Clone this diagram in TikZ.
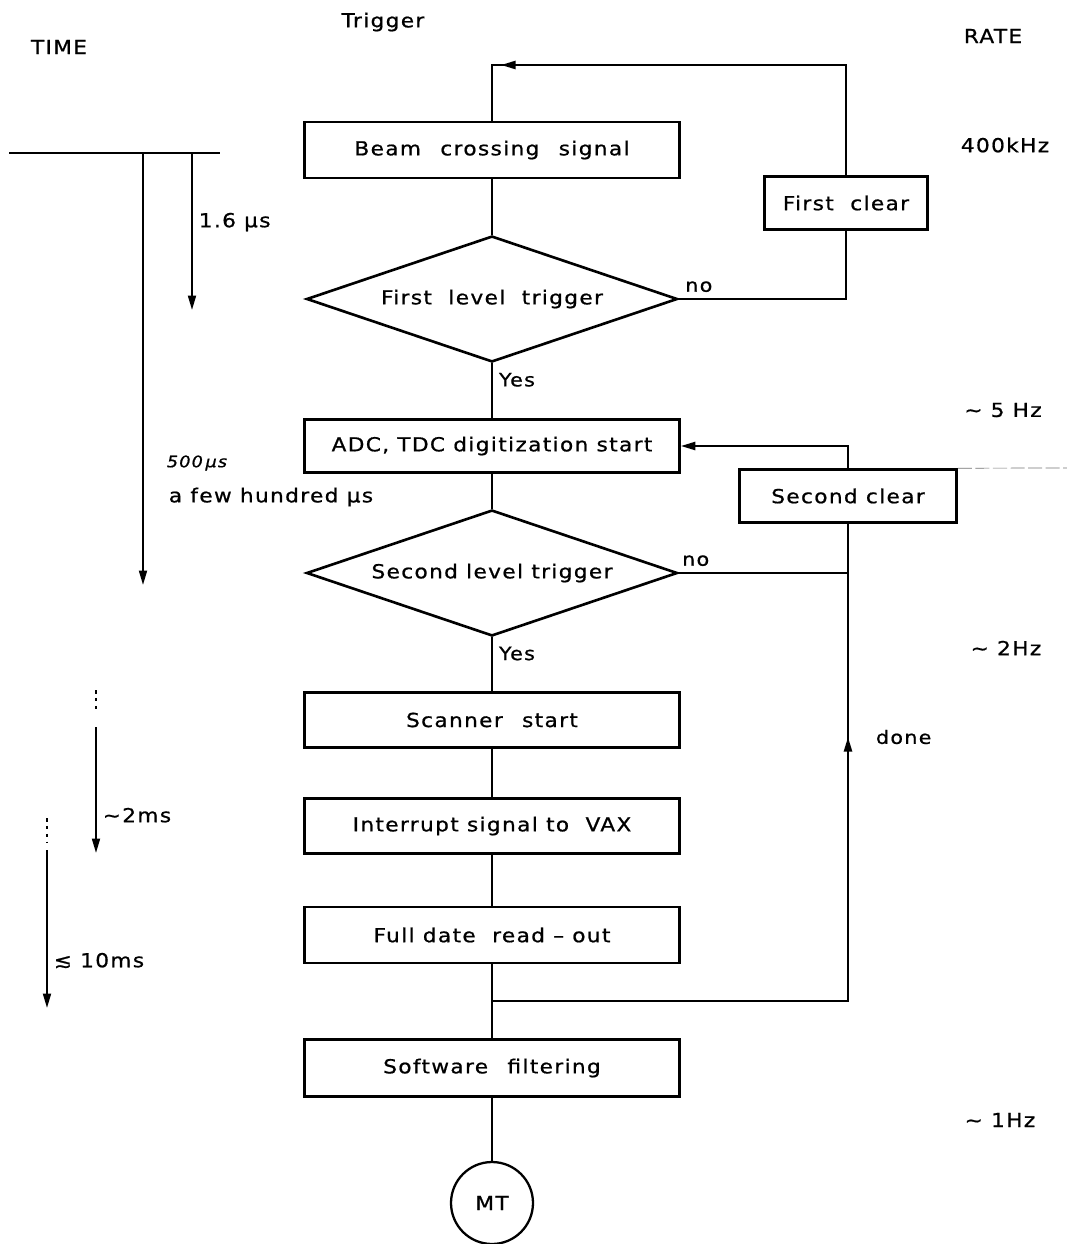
\documentclass[tikz,border=0pt]{standalone}
\usepackage{fontspec}
\setmainfont{DejaVu Sans}[FakeStretch=1.12, LetterSpace=7, FakeBold=0.8]
\usetikzlibrary{positioning,arrows.meta,shapes.geometric,calc}

\begin{document}
\begin{tikzpicture}[
  x=0.02cm, y=-0.02cm,
  font=\fontsize{11}{13}\selectfont,
  >={Triangle[length=2.9mm, width=1.6mm]},
  box/.style={draw, line width=1.5pt, minimum width=7.5cm, minimum height=1.1cm, inner sep=2pt},
  clearbox/.style={box, minimum width=3.26cm, minimum height=1.06cm},
  decide/.style={draw, diamond, aspect=3, line width=1.5pt, minimum width=7.42cm, minimum height=2.52cm, inner sep=0pt},
  tape/.style={draw, circle, line width=1.3pt, minimum size=1.64cm, inner sep=0pt},
  flow/.style={line width=1.3pt},
  tick/.style={->, line width=1.1pt},
  lbl/.style={font=\fontsize{10.5}{12}\selectfont},
]
\useasboundingbox (0,0) rectangle (1067,1244);

% ---- headings ----
\node (time) at (59,47) {TIME};
\node (trig) at (383,22) {Trigger};
\node (rate) at (993,36) {RATE};

% ---- trigger chain ----
\node[box, minimum height=1.12cm] (beam) at (492,150) {Beam\quad crossing\quad signal};
\node[decide] (lvl1) at (492,299) {First\ \ level\ \ trigger};
\node[clearbox] (fc) at (846,203) {First\ \ clear};
\node[box, minimum height=1.06cm] (adc) at (492,446) {ADC, TDC digitization start};
\node[decide] (lvl2) at (492,573) {Second level trigger};
\node[clearbox, minimum width=4.34cm] (sc) at (848,496) {Second clear};
\node[box] (scan) at (492,720) {Scanner\quad start};
\node[box] (vax) at (492,826) {Interrupt signal to\ \ VAX};
\node[box, minimum height=1.12cm] (read) at (492,935) {Full date\ \ read -- out};
\node[box, minimum height=1.14cm] (soft) at (492,1068) {Software\quad filtering};
\node[tape] (mt) at (492,1203) {MT};

% ---- rates ----
\node (r1) at (1005,145) {400kHz};
\node (r2) at (1003,410) {∼ 5 Hz};
\node (r3) at (1006,648) {∼ 2Hz};
\node (r4) at (1000,1120) {∼ 1Hz};
\draw[thin, black!55, dash pattern=on 8pt off 2pt] (sc.north east) -- (1067,468);

% ---- flows ----
\coordinate (top) at (beam.north |- 0,65);
\draw[flow] (fc.north) |- (top) -- (beam.north);
\draw[flow, ->] (fc.north |- top) -- ($(top)+(9,0)$);
\draw[flow] (beam) -- (lvl1);
\draw[flow] (lvl1.east) -| node[lbl, above, pos=0.06]{no} (fc.south);
\draw[flow] (lvl1.south) -- node[lbl, right, pos=0.3]{Yes} (adc.north);
\draw[flow, ->] (sc.north) |- (adc.east);
\draw[flow] (adc) -- (lvl2);
\draw[flow] (lvl2.east) -- node[lbl, above, pos=0.1]{no} (lvl2.east -| sc.south);
\draw[flow] (lvl2.south) -- node[lbl, right, pos=0.3]{Yes} (scan.north);
\draw[flow] (scan) -- (vax);
\draw[flow] (vax) -- (read);
\draw[flow] (read) -- (soft);
\draw[flow] (soft) -- (mt);
\draw[flow] (mt.south) -- ++(56,0);
% done loop back to second clear
\coordinate (join) at ($(read.south)!0.5!(soft.north)$);
\draw[flow] (join) -| (sc.south);
\draw[flow, ->] (join -| sc.south) -- (sc.south |- 0,737) node[lbl, right=4.2mm]{done};

% ---- time scale ----
\coordinate (t0) at (9,153);
\coordinate (t1) at (220,153);
\draw[flow] (t0) -- (t1);
\draw[tick] (143,153) -- (143,585);
\draw[tick] (192,153) -- node[right, pos=0.44]{1.6 μs} (192,310);
\node[font=\fontsize{9}{10}\selectfont\itshape] (hand) at (197,463) {500\,μs};
\node (few) at (271,497) {a few hundred μs};
\draw[flow, dash pattern=on 2pt off 2.5pt] (96,690) -- (96,713);
\draw[tick] (96,727) -- node[right, pos=0.7]{∼2ms} (96,853);
\draw[flow, dash pattern=on 2pt off 2.5pt] (47,818) -- (47,843);
\draw[tick] (47,850) -- node[right, pos=0.7]{≲ 10ms} (47,1008);
\end{tikzpicture}
\end{document}
